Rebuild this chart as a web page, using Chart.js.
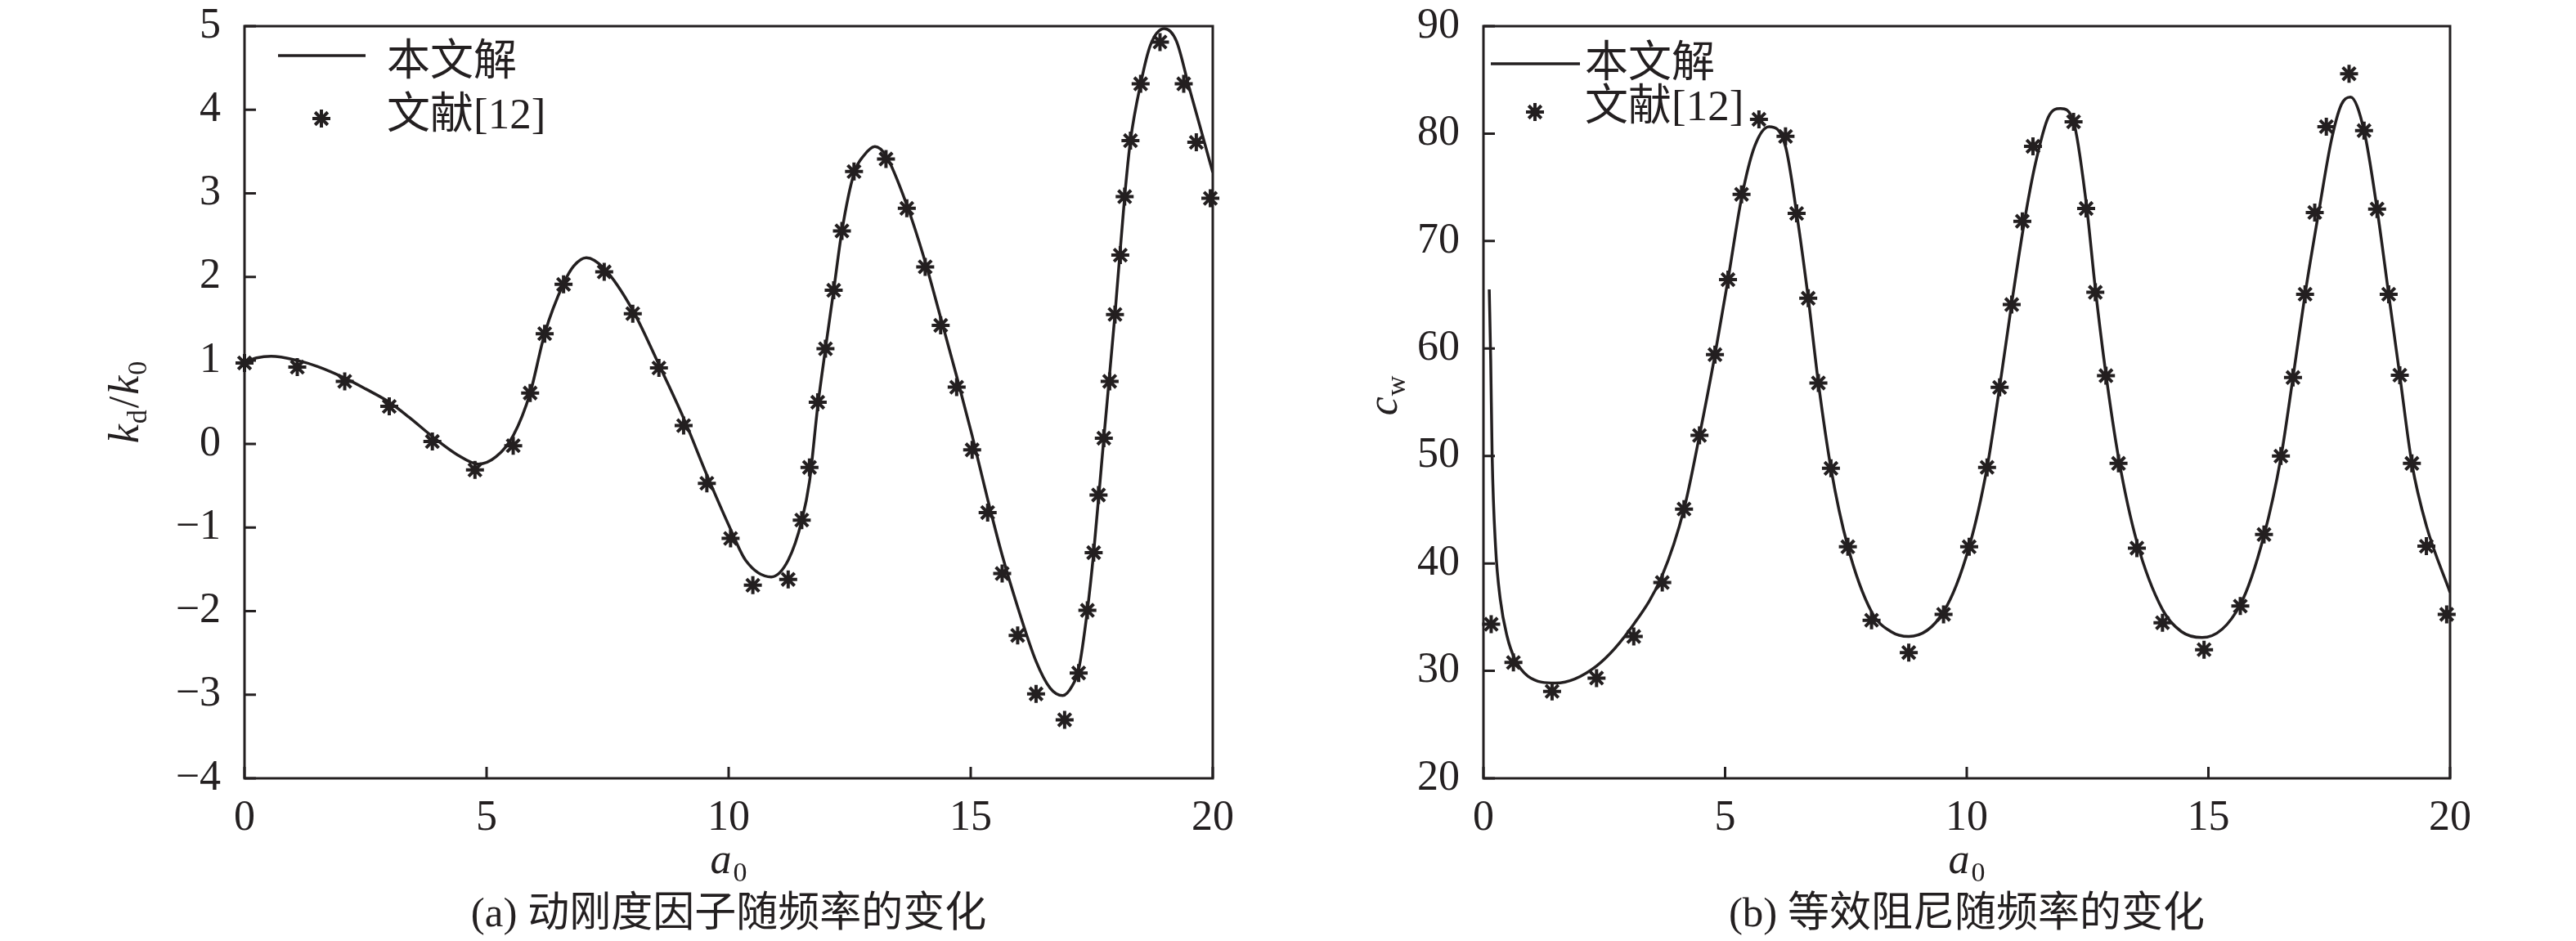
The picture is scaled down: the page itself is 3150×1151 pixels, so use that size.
<!DOCTYPE html>
<html>
<head>
<meta charset="utf-8">
<script src="https://cdn.jsdelivr.net/npm/chart.js@4.4.0/dist/chart.umd.min.js"></script>
<style>
html,body{margin:0;padding:0;background:#fff;}
#wrap{position:relative;width:3150px;height:1151px;display:flex;background:#fff;}
.box{position:relative;width:1575px;height:1151px;}
canvas{display:block;}
</style>
</head>
<body>
<div id="wrap">
  <div class="box"><canvas id="c1" width="1575" height="1151"></canvas></div>
  <div class="box"><canvas id="c2" width="1575" height="1151"></canvas></div>
</div>
<script>
// ---------------- DATA ----------------
const a0Ticks = [0, 5, 10, 15, 20];
const kdTicks = [-4, -3, -2, -1, 0, 1, 2, 3, 4, 5];
const cwTicks = [20, 30, 40, 50, 60, 70, 80, 90];
const legendLabels = ['本文解', '文献[12]'];
const captions = ['(a) 动刚度因子随频率的变化', '(b) 等效阻尼随频率的变化'];

// (a) kd/k0 — present solution (curve)
const kdCurveX = [0, 0.25, 0.55, 1.09, 1.5, 2.07, 2.5, 2.99, 3.4, 3.88, 4.4, 4.83, 5.2, 5.55, 5.9, 6.2, 6.59, 6.8, 7.06, 7.43, 8.02, 8.56, 9.07, 9.55, 10.04, 10.35, 10.88, 11.23, 11.51, 11.67, 11.84, 12.0, 12.17, 12.34, 12.59, 12.79, 13.02, 13.25, 13.68, 14.06, 14.38, 14.71, 15.03, 15.35, 15.65, 15.97, 16.35, 16.64, 16.9, 17.1, 17.23, 17.41, 17.54, 17.75, 17.98, 18.18, 18.3, 18.51, 18.71, 19.0, 19.25, 19.51, 19.78, 20.0];
const kdCurveY = [0.98, 1.03, 1.05, 1.0, 0.93, 0.79, 0.66, 0.50, 0.32, 0.09, -0.13, -0.24, -0.15, 0.10, 0.61, 1.32, 1.92, 2.13, 2.23, 2.10, 1.60, 0.95, 0.31, -0.37, -1.02, -1.39, -1.59, -1.39, -0.92, -0.45, 0.45, 1.14, 1.84, 2.55, 3.24, 3.45, 3.56, 3.45, 2.86, 2.18, 1.51, 0.81, 0.10, -0.66, -1.33, -1.95, -2.60, -2.92, -3.01, -2.89, -2.70, -1.99, -1.30, 0.07, 1.55, 2.96, 3.63, 4.31, 4.77, 4.97, 4.82, 4.27, 3.71, 3.25];
// (a) reference [12] (stars)
const kdRefX = [0, 1.09, 2.07, 2.99, 3.88, 4.76, 5.55, 5.90, 6.20, 6.59, 7.43, 8.02, 8.56, 9.07, 9.55, 10.04, 10.50, 11.23, 11.51, 11.67, 11.84, 12.00, 12.17, 12.34, 12.59, 13.25, 13.68, 14.06, 14.38, 14.71, 15.03, 15.35, 15.65, 15.97, 16.35, 16.94, 17.23, 17.41, 17.54, 17.64, 17.75, 17.87, 17.98, 18.09, 18.18, 18.30, 18.51, 18.91, 19.40, 19.66, 19.95];
const kdRefY = [0.97, 0.92, 0.75, 0.45, 0.03, -0.31, -0.02, 0.61, 1.32, 1.91, 2.06, 1.56, 0.91, 0.22, -0.47, -1.13, -1.69, -1.62, -0.91, -0.28, 0.50, 1.14, 1.84, 2.55, 3.26, 3.41, 2.82, 2.12, 1.42, 0.68, -0.07, -0.82, -1.55, -2.29, -2.99, -3.30, -2.74, -1.99, -1.30, -0.61, 0.07, 0.75, 1.55, 2.26, 2.96, 3.63, 4.31, 4.81, 4.31, 3.61, 2.94];

// (b) cw — present solution (curve)
const cwCurveX = [0.12, 0.15, 0.18, 0.25, 0.35, 0.49, 0.65, 0.92, 1.49, 2.34, 3.11, 3.70, 4.15, 4.47, 4.79, 5.06, 5.34, 5.61, 5.91, 6.25, 6.48, 6.72, 6.93, 7.19, 7.54, 8.03, 8.43, 8.80, 9.52, 10.05, 10.42, 10.68, 10.93, 11.19, 11.42, 11.69, 11.94, 12.21, 12.47, 12.66, 12.88, 13.14, 13.52, 14.05, 14.44, 14.87, 15.66, 16.15, 16.50, 16.75, 17.00, 17.29, 17.55, 17.75, 17.94, 18.22, 18.49, 18.73, 18.96, 19.21, 19.51, 20.0];
const cwCurveY = [65.5, 59.0, 50.0, 41.6, 36.6, 33.2, 31.1, 29.5, 28.87, 30.46, 34.34, 38.9, 45.06, 51.9, 59.4, 66.4, 74.0, 78.8, 80.65, 78.8, 72.6, 64.7, 56.8, 48.85, 41.55, 35.5, 33.66, 33.2, 35.5, 41.55, 48.9, 56.4, 64.2, 71.75, 77.2, 81.56, 82.34, 81.1, 73.6, 65.6, 57.6, 49.85, 42.0, 35.7, 33.66, 33.1, 36.17, 42.6, 49.85, 57.3, 65.05, 72.9, 79.5, 82.7, 83.4, 80.28, 72.98, 65.05, 57.5, 49.3, 43.5, 37.3];
// (b) reference [12] (stars)
const cwRefX = [0.16, 0.62, 1.42, 2.34, 3.11, 3.70, 4.15, 4.47, 4.79, 5.06, 5.34, 5.70, 6.25, 6.48, 6.72, 6.93, 7.19, 7.54, 8.03, 8.80, 9.52, 10.05, 10.42, 10.68, 10.93, 11.15, 11.37, 12.21, 12.47, 12.66, 12.88, 13.14, 13.52, 14.05, 14.91, 15.66, 16.15, 16.50, 16.75, 17.00, 17.20, 17.44, 17.91, 18.22, 18.49, 18.73, 18.96, 19.21, 19.51, 19.93];
const cwRefY = [34.34, 30.78, 28.09, 29.33, 33.20, 38.22, 45.06, 51.91, 59.43, 66.41, 74.35, 81.33, 79.74, 72.57, 64.68, 56.79, 48.85, 41.55, 34.71, 31.70, 35.26, 41.55, 48.94, 56.38, 64.09, 71.84, 78.82, 81.10, 73.03, 65.23, 57.47, 49.31, 41.42, 34.48, 31.97, 36.03, 42.69, 49.99, 57.30, 65.05, 72.66, 80.65, 85.57, 80.28, 72.98, 65.05, 57.52, 49.31, 41.60, 35.26];

// ---------------- STYLE ----------------
const INK = '#231f20';
const SERIF = '"Liberation Serif", "Times New Roman", serif';
const MIXED = '"Liberation Serif", "Noto Sans CJK SC", serif';

function toPts(xs, ys) { return xs.map((x, i) => ({ x: x, y: ys[i] })); }
function fmt(v) { return v < 0 ? '\u2212' + Math.abs(v) : String(v); }

// draw sequence of text parts (main / subscript) starting at x, baseline y
function drawParts(ctx, parts, x, y, measureOnly) {
  let cx = x;
  for (const p of parts) {
    ctx.font = (p.italic ? 'italic ' : '') + (p.sub ? '34px ' : '52px ') + SERIF;
    if (!measureOnly) ctx.fillText(p.t, cx, y + (p.sub ? 10 : 0));
    cx += ctx.measureText(p.t).width + (p.gap || 0);
  }
  return cx - x;
}

const framePlugin = {
  id: 'frame',
  afterDraw(chart, args, o) {
    const ctx = chart.ctx, a = chart.chartArea;
    const xs = chart.scales.x, ys = chart.scales.y;
    ctx.save();
    ctx.strokeStyle = INK; ctx.fillStyle = INK;
    ctx.lineWidth = 3;
    ctx.strokeRect(a.left, a.top, a.right - a.left, a.bottom - a.top);
    // inward ticks on bottom and left
    ctx.beginPath();
    xs.ticks.forEach(t => { const px = xs.getPixelForValue(t.value); ctx.moveTo(px, a.bottom); ctx.lineTo(px, a.bottom - 14); });
    ys.ticks.forEach(t => { const py = ys.getPixelForValue(t.value); ctx.moveTo(a.left, py); ctx.lineTo(a.left + 14, py); });
    ctx.stroke();

    // legend
    const L = o.legend;
    const ds0 = chart.data.datasets[0], ds1 = chart.data.datasets[1];
    ctx.lineWidth = ds0.borderWidth;
    ctx.beginPath(); ctx.moveTo(L.lineX0, L.lineY); ctx.lineTo(L.lineX1, L.lineY); ctx.stroke();
    ctx.lineWidth = ds1.pointBorderWidth;
    Chart.helpers.drawPoint(ctx, { pointStyle: 'star', radius: ds1.pointRadius, borderWidth: ds1.pointBorderWidth, rotation: 0 }, L.starX, L.starY);
    ctx.font = '53px ' + MIXED;
    ctx.textBaseline = 'alphabetic'; ctx.textAlign = 'left';
    ctx.fillText(ds0.label, L.textX, L.text0Base);
    ctx.fillText(ds1.label, L.textX, L.text1Base);

    // x axis title a0
    const xParts = [{ t: 'a', italic: true, gap: 2 }, { t: '0', sub: true }];
    const xw = drawParts(ctx, xParts, 0, 0, true);
    drawParts(ctx, xParts, (a.left + a.right) / 2 - xw / 2, o.xTitleY, false);

    // y axis title (rotated)
    ctx.save();
    ctx.translate(o.yTitleX, o.yTitleY);
    ctx.rotate(-Math.PI / 2);
    const yw = drawParts(ctx, o.yParts, 0, 0, true);
    drawParts(ctx, o.yParts, -yw / 2, 0, false);
    ctx.restore();

    // caption
    ctx.font = '51px ' + MIXED;
    ctx.textAlign = 'center'; ctx.textBaseline = 'middle';
    ctx.fillText(o.caption, (a.left + a.right) / 2, o.captionY);
    ctx.restore();
  }
};

function makeChart(id, p) {
  return new Chart(document.getElementById(id), {
    type: 'scatter',
    data: {
      datasets: [
        { label: legendLabels[0], data: toPts(p.curveX, p.curveY), showLine: true, borderColor: INK, backgroundColor: INK,
          borderWidth: 3.5, pointRadius: 0, pointHoverRadius: 0, cubicInterpolationMode: 'monotone', fill: false },
        { label: legendLabels[1], data: toPts(p.refX, p.refY), showLine: false, pointStyle: 'star', pointRadius: 11,
          pointHoverRadius: 11, borderColor: INK, backgroundColor: INK, pointBorderWidth: 4, borderWidth: 4, clip: false }
      ]
    },
    options: {
      responsive: false, animation: false, devicePixelRatio: 1,
      events: [],
      layout: { padding: { left: 0, top: 32, right: p.padRight, bottom: 0 } },
      plugins: {
        legend: { display: false }, tooltip: { enabled: false },
        frame: { legend: p.legend, xTitleY: 1068, yTitleX: p.yTitleX, yTitleY: p.yTitleY, yParts: p.yParts, caption: p.caption, captionY: 1120 }
      },
      scales: {
        x: {
          type: 'linear', min: a0Ticks[0], max: a0Ticks[a0Ticks.length - 1],
          afterBuildTicks: s => { s.ticks = a0Ticks.map(v => ({ value: v })); },
          afterFit: s => { s.height = 1151 - 952; s.paddingLeft = 0; s.paddingRight = 0; },
          grid: { display: false }, border: { display: false },
          ticks: { padding: 10, color: INK, font: { family: SERIF, size: 52 }, maxRotation: 0, callback: v => fmt(v) }
        },
        y: {
          type: 'linear', min: p.yTicks[0], max: p.yTicks[p.yTicks.length - 1],
          afterBuildTicks: s => { s.ticks = p.yTicks.map(v => ({ value: v })); },
          afterFit: s => { s.width = p.padLeft; s.paddingTop = 0; s.paddingBottom = 0; },
          grid: { display: false }, border: { display: false },
          ticks: { padding: 21, color: INK, font: { family: SERIF, size: 52 }, callback: v => fmt(v) }
        }
      }
    },
    plugins: [framePlugin]
  });
}

makeChart('c1', {
  curveX: kdCurveX, curveY: kdCurveY, refX: kdRefX, refY: kdRefY, yTicks: kdTicks,
  padLeft: 299, padRight: 92,
  legend: { lineX0: 340, lineX1: 447, lineY: 68, starX: 393, starY: 145, textX: 473, text0Base: 92, text1Base: 157 },
  yTitleX: 169, yTitleY: 492,
  yParts: [{ t: 'k', italic: true, gap: 1 }, { t: 'd', sub: true, gap: 2 }, { t: '/', gap: 2 }, { t: 'k', italic: true, gap: 1 }, { t: '0', sub: true }],
  caption: captions[0]
});

makeChart('c2', {
  curveX: cwCurveX, curveY: cwCurveY, refX: cwRefX, refY: cwRefY, yTicks: cwTicks,
  padLeft: 239, padRight: 154,
  legend: { lineX0: 248, lineX1: 357, lineY: 78, starX: 302, starY: 137, textX: 363, text0Base: 94, text1Base: 147 },
  yTitleX: 133, yTitleY: 484,
  yParts: [{ t: 'c', italic: true, gap: 1 }, { t: 'w', sub: true }],
  caption: captions[1]
});
</script>
</body>
</html>
